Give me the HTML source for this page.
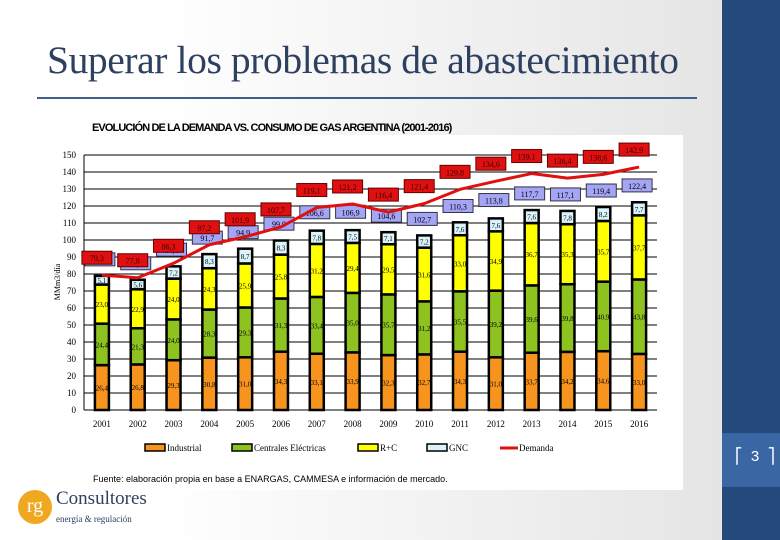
<!DOCTYPE html>
<html><head><meta charset="utf-8"><style>
body{margin:0;width:780px;height:540px;overflow:hidden;font-family:"Liberation Sans",sans-serif;background:linear-gradient(90deg,#fff 20%,#e4e4e4 95%);position:relative}
.t{position:absolute;left:47px;top:37px;font-family:"Liberation Serif",serif;font-size:39.5px;color:#2e4060;letter-spacing:-0.4px}
</style></head><body>
<div class="t">Superar los problemas de abastecimiento</div>
<div style="position:absolute;left:37px;top:97px;width:660px;height:1.5px;background:#3f5f8a"></div>
<div style="position:absolute;left:722px;top:0;width:58px;height:540px;background:#234a7a"></div>
<div style="position:absolute;left:722px;top:433px;width:58px;height:54px;background:#3a67a3"></div>
<div style="position:absolute;left:730px;top:447px;width:50px;color:#fff;font-size:15px;text-align:center">⎡&nbsp;&nbsp;3&nbsp;&nbsp;⎤</div>
<div style="position:absolute;left:55px;top:135px;width:628px;height:355px;background:#fff"></div>
<div style="position:absolute;left:92px;top:122px;font-size:11px;font-weight:bold;letter-spacing:-0.9px">EVOLUCIÓN DE LA DEMANDA VS. CONSUMO DE GAS ARGENTINA (2001-2016)</div>
<svg id="c" width="780" height="540" style="position:absolute;left:0;top:0"></svg>
<div style="position:absolute;left:93px;top:474px;font-size:9px">Fuente: elaboración propia en base a ENARGAS, CAMMESA e información de mercado.</div>
<div style="position:absolute;left:18px;top:490px;width:34px;height:34px;border-radius:50%;background:#f0a820;color:#fff;font-family:'Liberation Serif',serif;font-size:20px;text-align:center;line-height:32px">rg</div>
<div style="position:absolute;left:56px;top:490px;font-family:'Liberation Serif',serif;color:#2e4060;font-size:19px;line-height:18px">Consultores<br><span style="font-size:9px">energía &amp; regulación</span></div>
<script>
const years=["2001","2002","2003","2004","2005","2006","2007","2008","2009","2010","2011","2012","2013","2014","2015","2016"];
const industrial=[26.4,26.8,29.3,30.8,31.0,34.3,33.1,33.9,32.3,32.7,34.3,31.0,33.7,34.2,34.6,33.0];
const centrales=[24.4,21.3,24.0,28.3,29.3,31.3,33.4,35.0,35.7,31.2,35.5,39.2,39.6,39.8,40.9,43.8];
const rc=[23.0,22.9,24.0,24.3,25.9,25.8,31.2,29.4,29.5,31.6,33.0,34.9,36.7,35.3,35.7,37.7];
const gnc=[5.1,5.6,7.2,8.3,8.7,8.3,7.8,7.5,7.1,7.2,7.6,7.6,7.6,7.8,8.2,7.7];
const totals=[78.9,76.6,84.6,91.7,94.9,99.9,106.6,106.9,104.6,102.7,110.3,113.8,117.7,117.1,119.4,122.4];
const demand=[79.3,77.8,86.3,97.2,101.9,107.7,119.1,121.2,116.4,121.4,129.8,134.6,139.1,136.4,138.6,142.9];
const yTicks=[0,10,20,30,40,50,60,70,80,90,100,110,120,130,140,150];
const svg=document.getElementById('c');const NS='http://www.w3.org/2000/svg';
const X0=84,X1=657,Y0=410,Y1=155;
const x=i=>X0+(X1-X0)*(i+0.5)/years.length;
const y=v=>Y0-(Y0-Y1)*v/150;
function mk(t,a,p){const e=document.createElementNS(NS,t);for(const k in a)e.setAttribute(k,a[k]);(p||svg).appendChild(e);return e;}
yTicks.forEach(v=>{
 const g=mk('line',{x1:X0,x2:X1,y1:y(v),y2:y(v),stroke:'#000','stroke-width':1});
 
 
 const t=mk('text',{x:X0-8,y:y(v)+3,'font-size':9,'text-anchor':'end','font-family':'Liberation Serif'});t.textContent=v;
 
 
});
const yl=mk('text',{transform:'translate(60,282) rotate(-90)','font-size':8,'text-anchor':'middle','font-family':'Liberation Serif'});yl.textContent='MMm3/día';


mk('line',{x1:X0,x2:X0,y1:Y1,y2:Y0,stroke:'#000'});
const series=[[industrial,'#f7941d'],[centrales,'#8dc21f'],[rc,'#ffff00'],[gnc,'#d9f5fb']];
years.forEach((yr,i)=>{
 let base=0;const cx=x(i);
 series.forEach(([arr,col],s)=>{
  const v=arr[i];
  const r=mk('rect',{x:cx-7,y:y(base+v),width:14,height:y(base)-y(base+v),fill:col,stroke:'#000','stroke-width':2.5});
  
  
  const t=mk('text',{x:cx,y:(y(base)+y(base+v))/2+3,'font-size':7,'text-anchor':'middle','font-family':'Liberation Serif'});t.textContent=v.toFixed(1).replace('.',',');
  
  
  base+=v;
 });
 const lb=mk('rect',{x:cx-17,y:y(totals[i])-23,width:30,height:13,fill:'#a5a5f5',stroke:'#334'});
 
 
 const lt=mk('text',{x:cx-2,y:y(totals[i])-13,'font-size':8,'text-anchor':'middle','font-family':'Liberation Serif','fill':'#001'});lt.textContent=totals[i].toFixed(1).replace('.',',');
 
 
 const xl=mk('text',{x:cx,y:Y0+17,'font-size':9,'text-anchor':'middle','font-family':'Liberation Serif'});xl.textContent=yr;
 
 
});
let d='';demand.forEach((v,i)=>{d+=(i?'L':'M')+x(i)+','+y(v);});
const ln=mk('path',{d:d,fill:'none',stroke:'#e01010','stroke-width':3,'stroke-linejoin':'round'});


demand.forEach((v,i)=>{
 const b=mk('rect',{x:x(i)-20,y:y(v)-24,width:30,height:13,fill:'#e01010',stroke:'#600'});
 
 
 const t=mk('text',{x:x(i)-5,y:y(v)-14,'font-size':8,'text-anchor':'middle','font-family':'Liberation Serif','fill':'#300'});t.textContent=v.toFixed(1).replace('.',',');
 
 
});
const leg=[['Industrial','#f7941d',145],['Centrales Eléctricas','#8dc21f',232],['R+C','#ffff00',358],['GNC','#d9f5fb',427]];
leg.forEach(([n,c,lx])=>{
 const r=mk('rect',{x:lx,y:444,width:20,height:7,fill:c,stroke:'#000','stroke-width':1.5});
 
 
 const t=mk('text',{x:lx+22,y:451,'font-size':9,'font-family':'Liberation Serif'});t.textContent=n;
 
 
});
const dl=mk('line',{x1:500,x2:518,y1:448,y2:448,stroke:'#e01010','stroke-width':3});


const dt=mk('text',{x:519,y:451,'font-size':9,'font-family':'Liberation Serif'});dt.textContent='Demanda';


</script>
</body></html>
